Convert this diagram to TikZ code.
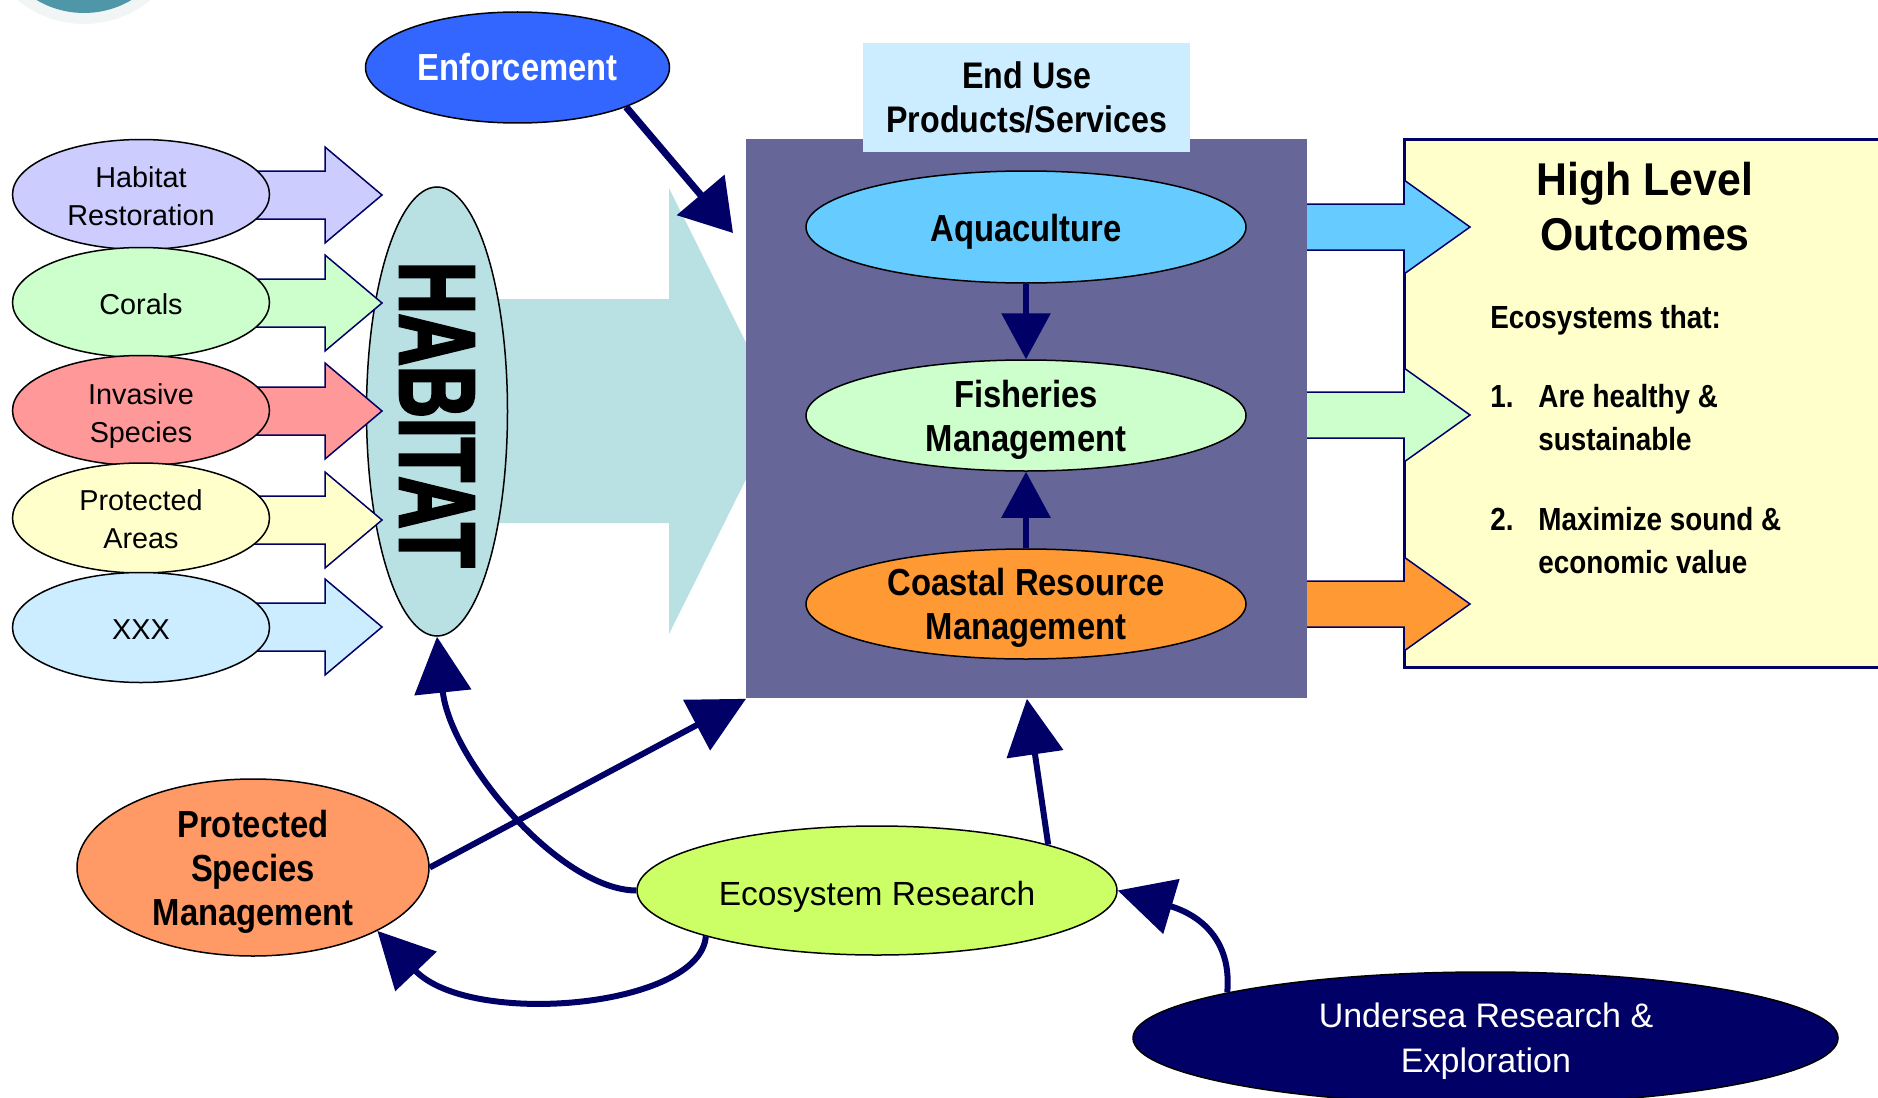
\documentclass[tikz,border=0pt]{standalone}
\usepackage{fontspec}
\setmainfont{Liberation Sans}
\newfontfamily\regf{Liberation Sans}
\newfontfamily\bcf{Liberation Sans}[FakeStretch=0.87]
\newfontfamily\hlf{Liberation Sans}[FakeStretch=0.93]
\newfontfamily\habf{Liberation Sans}[FakeStretch=0.67,BoldFeatures={FakeBold=2.5}]
\usetikzlibrary{shapes.geometric,arrows.meta}
\definecolor{cNavy}{HTML}{000066}
\definecolor{cBox}{HTML}{666699}
\definecolor{cEU}{HTML}{CCECFF}
\definecolor{cAqua}{HTML}{66CCFF}
\definecolor{cFish}{HTML}{CCFFCC}
\definecolor{cCoast}{HTML}{FF9933}
\definecolor{cEnf}{HTML}{3366FF}
\definecolor{cPSM}{HTML}{FF9966}
\definecolor{cER}{HTML}{CCFF66}
\definecolor{cHR}{HTML}{CCCCFF}
\definecolor{cCor}{HTML}{CCFFCC}
\definecolor{cInv}{HTML}{FF9999}
\definecolor{cPA}{HTML}{FFFFCC}
\definecolor{cXXX}{HTML}{CCECFF}
\definecolor{cTeal}{HTML}{B9E0E3}
\definecolor{cPanel}{HTML}{FFFFCC}
\definecolor{cLogo}{HTML}{4F97A8}
\definecolor{cHalo}{HTML}{F1F5F5}
\begin{document}
\begin{tikzpicture}[x=0.5pt,y=-0.5pt,
  ell/.style={ellipse,draw=black,line width=0.75pt,inner sep=0pt},
  sarrow/.style={draw=cNavy,line width=0.75pt},
  ltxt/.style={font=\regf\fontsize{14.4}{19}\selectfont,align=center,inner sep=0pt,yshift=-0.8pt},
  btxt/.style={font=\bcf\bfseries\fontsize{18.85}{22}\selectfont,align=center,inner sep=0pt},
  ptxt/.style={font=\bcf\bfseries\fontsize{16}{22}\selectfont,inner sep=0pt},
  conn/.style={draw=cNavy,fill=none,line width=3pt,-{Triangle[length=28pt,width=28pt]}},
  sconn/.style={draw=cNavy,line width=3pt,-{Triangle[length=23pt,width=24pt]}}]
\useasboundingbox (0,0) rectangle (1878,1097);
\clip (0,0) rectangle (1878,1097);

% logo remnant
\fill[cHalo] (84,-80) circle (52pt);
\fill[cLogo] (84,-80) circle (46.5pt);

% big teal arrow
\fill[cTeal] (450,299) -- (669,299) -- (669,188) -- (780,411) -- (669,634) -- (669,523) -- (450,523) -- cycle;

% right panel
\draw[cNavy,line width=1.5pt,fill=cPanel] (1404,139) rectangle (1900,667);

% right block arrows
\foreach \y/\c in {227/cAqua,415/cFish,604/cCoast}
  \draw[sarrow,fill=\c] (1300,\y-23) -- (1404,\y-23) -- (1404,\y-47) -- (1470,\y) -- (1404,\y+47) -- (1404,\y+23) -- (1300,\y+23) -- cycle;

% central box and title
\node[rectangle,fill=cBox,inner sep=0pt,minimum width=280.5pt,minimum height=279.5pt,anchor=north west] (box) at (746,139) {};
\node[rectangle,fill=cEU,inner sep=0pt,minimum width=163.5pt,minimum height=54.5pt,anchor=north west] (eu) at (863,43) {};
\node[btxt,font=\bcf\bfseries\fontsize{18.5}{22}\selectfont] (eut) at (eu.center) {End Use\\Products/Services};

% HABITAT
\node[ell,fill=cTeal,minimum width=70.5pt,minimum height=224.5pt] (hab) at (437,411.5) {};
\node[rotate=-90,inner sep=0pt,font=\habf\bfseries\fontsize{53.75}{60}\selectfont] (habt) at (437,414.5) {HABITAT};

% left block arrows
\foreach \y/\c in {195/cHR,303/cCor,411/cInv,520/cPA,627/cXXX}
  \draw[sarrow,fill=\c] (200,\y-24) -- (325,\y-24) -- (325,\y-48) -- (382,\y) -- (325,\y+48) -- (325,\y+24) -- (200,\y+24) -- cycle;

% left ellipses
\node[ell,fill=cHR,minimum width=128.5pt,minimum height=55pt] (hr) at (141,194.5) {};
\node[ell,fill=cCor,minimum width=128.5pt,minimum height=55pt] (co) at (141,302.5) {};
\node[ell,fill=cInv,minimum width=128.5pt,minimum height=55pt] (inv) at (141,410.5) {};
\node[ell,fill=cPA,minimum width=128.5pt,minimum height=55pt] (pa) at (141,518) {};
\node[ell,fill=cXXX,minimum width=128.5pt,minimum height=55pt] (xx) at (141,627.5) {};
\node[ltxt] at (hr) {Habitat\\Restoration};
\node[ltxt] at (co) {Corals};
\node[ltxt,yshift=-1.8pt] at (inv) {Invasive\\Species};
\node[ltxt] at (pa) {Protected\\Areas};
\node[ltxt] at (xx) {XXX};

% enforcement
\node[ell,fill=cEnf,minimum width=152pt,minimum height=55.5pt] (enf) at (517.5,67.5) {};
\node[btxt,text=white] at (enf) {Enforcement};
\coordinate (enfTip) at (733,233);
\draw[draw=cNavy,line width=3.5pt,-{Triangle[length=25pt,width=30.5pt]}] (enf.-20) -- (enfTip);

% central ellipses
\node[ell,fill=cAqua,minimum width=220pt,minimum height=56pt] (aq) at (1026,227) {};
\node[ell,fill=cFish,minimum width=220pt,minimum height=55.5pt] (fi) at (1026,415.5) {};
\node[ell,fill=cCoast,minimum width=220pt,minimum height=55pt] (cr) at (1026,604) {};
\node[btxt,yshift=-2.5pt] at (aq) {Aquaculture};
\node[btxt,yshift=-2pt] at (fi) {Fisheries\\Management};
\node[btxt,yshift=-2pt] at (cr) {Coastal Resource\\Management};
\draw[sconn] (aq.south) -- (fi.north);
\draw[sconn] (cr.north) -- (fi.south);

% right panel text
\node[anchor=base,inner sep=0pt,font=\hlf\bfseries\fontsize{23}{27}\selectfont] at (1645,195) {High Level};
\node[anchor=base,inner sep=0pt,font=\hlf\bfseries\fontsize{23}{27}\selectfont] at (1645,250) {Outcomes};
\node[ptxt,anchor=base west] at (1490,328) {Ecosystems that:};
\node[ptxt,anchor=base west] at (1490,407) {1.};
\node[ptxt,anchor=base west] at (1538,407) {Are healthy \&};
\node[ptxt,anchor=base west] at (1538,450) {sustainable};
\node[ptxt,anchor=base west] at (1490,530) {2.};
\node[ptxt,anchor=base west] at (1538,530) {Maximize sound \&};
\node[ptxt,anchor=base west] at (1538,573) {economic value};

% bottom nodes
\node[ell,fill=cPSM,minimum width=176pt,minimum height=88.5pt] (psm) at (253,867.5) {};
\node[btxt,yshift=-2pt] at (psm) {Protected\\Species\\Management};
\node[ell,fill=cER,minimum width=240pt,minimum height=64.5pt] (er) at (877,890.5) {};
\node[inner sep=0pt,yshift=-3pt,font=\regf\fontsize{16.75}{20}\selectfont] at (er) {Ecosystem Research};
\node[ell,fill=cNavy,minimum width=352.5pt,minimum height=66pt] (und) at (1485.5,1038) {};
\node[inner sep=0pt,yshift=-2pt,align=center,text=white,font=\regf\fontsize{17}{22.5}\selectfont] at (1486,1037) {Undersea Research \&\\Exploration};

% connectors
\draw[conn] (er.west) .. controls (560,890) and (450,760) .. (hab.south);
\draw[conn] (psm.east) -- (box.south west);
\draw[conn] (er.15) -- (box.south);
\draw[conn] (er.195) .. controls (700,1008) and (470,1028) .. (psm.-27);
\draw[conn] (und.170) .. controls (1232,940) and (1200,915) .. (er.east);
\end{tikzpicture}
\end{document}
